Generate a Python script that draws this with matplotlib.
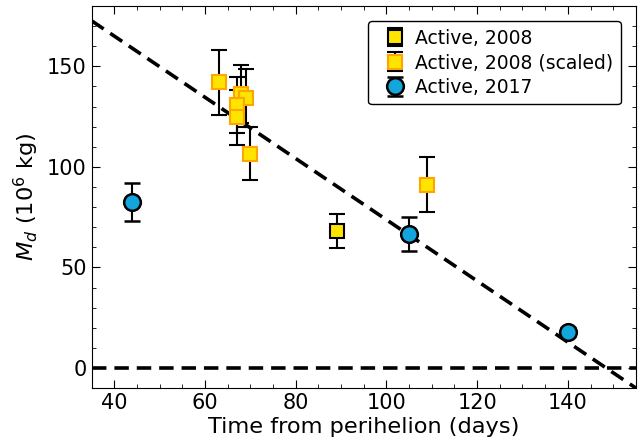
import numpy as np
import matplotlib
matplotlib.use("Agg")
import matplotlib.pyplot as plt
from matplotlib.ticker import MultipleLocator

# Active, 2008
t_2008 = [89]
m_2008 = [68.3]
e_2008 = [8.5]

# Active, 2008 (scaled)
t_2008s = [63, 68, 69, 67, 67, 70, 109]
m_2008s = [142, 136.4, 134.4, 130.7, 124.7, 106.6, 91.2]
e_2008s = [16, 14.5, 14.5, 14, 13.6, 13, 13.7]

# Active, 2017
t_2017 = [44, 105, 140]
m_2017 = [82.7, 66.5, 17.8]
e_2017 = [9.5, 8.4, 2]

# linear fit: intercept, slope
fit_a = 225.9
fit_b = -1.522

plt.rcParams["font.size"] = 15

fig = plt.figure(figsize=(6.41, 4.45), dpi=100)
ax = fig.add_axes([0.143, 0.128, 0.849, 0.8585])

xx = np.array([35, 155])
ax.plot(xx, fit_a + fit_b * xx, "k--", lw=2.6, dashes=(4, 2.2), zorder=1)
ax.axhline(0, color="k", ls="--", lw=2.6, dashes=(4, 2.2), zorder=1)

ax.errorbar(t_2008, m_2008, yerr=e_2008, fmt="s", color="k", mfc="#ffe400",
            mec="k", ms=10, mew=1.5, capsize=5.5, elinewidth=1.5, capthick=1.5,
            label="Active, 2008", zorder=3)
ax.errorbar(t_2008s, m_2008s, yerr=e_2008s, fmt="s", color="k", mfc="#ffe400",
            mec="#ffa500", ms=10, mew=1.5, capsize=5.5, elinewidth=1.5, capthick=1.5,
            label="Active, 2008 (scaled)", zorder=3)
ax.errorbar(t_2017, m_2017, yerr=e_2017, fmt="o", color="k", mfc="#12a6dc",
            mec="k", ms=12, mew=1.8, capsize=5.5, elinewidth=1.5, capthick=1.5,
            label="Active, 2017", zorder=3)

ax.set_xlim(35, 155)
ax.set_ylim(-10, 180)
ax.xaxis.set_minor_locator(MultipleLocator(5))
ax.yaxis.set_major_locator(MultipleLocator(50))
ax.yaxis.set_minor_locator(MultipleLocator(10))
ax.tick_params(which="both", direction="in", top=True, right=True)
ax.tick_params(which="major", length=6)
ax.tick_params(which="minor", length=3)

ax.set_xlabel("Time from perihelion (days)", fontsize=16.2, labelpad=3)
ax.set_ylabel("$M_d$ (10$^6$ kg)", fontsize=16.2)

leg = ax.legend(loc="upper right", fontsize=13.5, borderaxespad=0.8, framealpha=1,
                handlelength=2.0, handletextpad=0.1, labelspacing=0.3)
leg.get_frame().set_edgecolor("k")

fig.savefig("out.png", dpi=100)
